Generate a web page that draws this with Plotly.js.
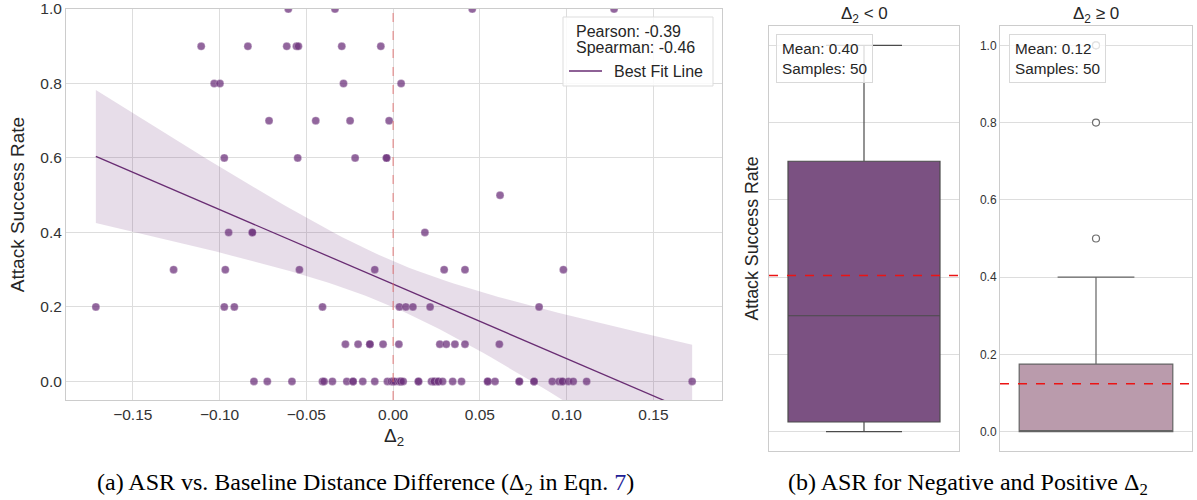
<!DOCTYPE html>
<html>
<head>
<meta charset="utf-8">
<script src="https://cdn.plot.ly/plotly-3.0.1.min.js"></script>
<style>html,body{margin:0;padding:0;background:#fff;}#chart{width:1197px;height:500px;}</style>
</head>
<body>
<div id="chart"></div>
<script>
// ---- Data (Δ2 vs. attack success rate), one entry per sample ----
const delta2 = [
  -0.0604, -0.0335, 0.0456, 0.1273,
  -0.1106, -0.0837, -0.0613, -0.0557, -0.0546, -0.0296, -0.0071,
  -0.1031, -0.0998, -0.0286, 0.0046,
  -0.0715, -0.0446, -0.0248, -0.0023,
  -0.0973, -0.0550, -0.0219, -0.0038, -0.0038,
  0.0616,
  -0.0948, -0.0811, -0.0811, 0.0183,
  -0.1265, -0.0967, -0.0540, -0.0106, 0.0294, 0.0414, 0.0981,
  -0.1713, -0.0973, -0.0915, -0.0407, 0.0036, 0.0073, 0.0114, 0.0213, 0.0841,
  -0.0275, -0.0202, -0.0134, -0.0134, -0.0058, 0.0033, 0.0269, 0.0306, 0.0356, 0.0414, 0.0612,
  -0.0802, -0.0725, -0.0583, -0.0407, -0.0398, -0.0350, -0.0267, -0.0231, -0.0231, -0.0175, -0.0106, -0.0033, -0.0010,
  0.0000, 0.0010, 0.0033, 0.0044, 0.0044, 0.0058, 0.0146, 0.0146, 0.0221, 0.0237, 0.0237, 0.0260, 0.0260,
  0.0285, 0.0343, 0.0394, 0.0545, 0.0545, 0.0587, 0.0727, 0.0727, 0.0812, 0.0812, 0.0917, 0.0956, 0.0975,
  0.0975, 0.1010, 0.1038, 0.1115, 0.1723
];
const asr = [
  1.0, 1.0, 1.0, 1.0,
  0.9, 0.9, 0.9, 0.9, 0.9, 0.9, 0.9,
  0.8, 0.8, 0.8, 0.8,
  0.7, 0.7, 0.7, 0.7,
  0.6, 0.6, 0.6, 0.6, 0.6,
  0.5,
  0.4, 0.4, 0.4, 0.4,
  0.3, 0.3, 0.3, 0.3, 0.3, 0.3, 0.3,
  0.2, 0.2, 0.2, 0.2, 0.2, 0.2, 0.2, 0.2, 0.2,
  0.1, 0.1, 0.1, 0.1, 0.1, 0.1, 0.1, 0.1, 0.1, 0.1, 0.1,
  0.0, 0.0, 0.0, 0.0, 0.0, 0.0, 0.0, 0.0, 0.0, 0.0, 0.0, 0.0, 0.0,
  0.0, 0.0, 0.0, 0.0, 0.0, 0.0, 0.0, 0.0, 0.0, 0.0, 0.0, 0.0, 0.0,
  0.0, 0.0, 0.0, 0.0, 0.0, 0.0, 0.0, 0.0, 0.0, 0.0, 0.0, 0.0, 0.0,
  0.0, 0.0, 0.0, 0.0, 0.0
];
const pearsonR = -0.39;
const spearmanR = -0.46;
const xTicks = [-0.15, -0.10, -0.05, 0.00, 0.05, 0.10, 0.15];
const yTicks = [0.0, 0.2, 0.4, 0.6, 0.8, 1.0];
const groupTitles = ['Δ<sub>2</sub> &lt; 0', 'Δ<sub>2</sub> ≥ 0'];
const captionA = '(a) ASR vs. Baseline Distance Difference (Δ<sub>2</sub> in Eqn. <span style="color:rgb(30,30,150)">7</span>)';
const captionB = '(b) ASR for Negative and Positive Δ<sub>2</sub>';

// ---- Statistics computed from the data ----
const n = delta2.length;
const mean = a => a.reduce((s, v) => s + v, 0) / a.length;
const xm = mean(delta2), ym = mean(asr);
let sxy = 0, sxx = 0, syy = 0;
for (let i = 0; i < n; i++) {
  sxy += (delta2[i] - xm) * (asr[i] - ym);
  sxx += (delta2[i] - xm) ** 2;
  syy += (asr[i] - ym) ** 2;
}
const slope = sxy / sxx, intercept = ym - slope * xm;
const s2 = (syy - slope * sxy) / (n - 2);
const tcrit = 1.984;
const xmin = Math.min(...delta2), xmax = Math.max(...delta2);
const gx = [], gy = [], gup = [], glo = [];
for (let k = 0; k <= 80; k++) {
  const x = xmin + (xmax - xmin) * k / 80;
  const y = intercept + slope * x;
  const se = Math.sqrt(s2 * (1 / n + (x - xm) ** 2 / sxx));
  gx.push(x); gy.push(y); gup.push(y + tcrit * se); glo.push(y - tcrit * se);
}

const negVals = asr.filter((v, i) => delta2[i] < 0);
const posVals = asr.filter((v, i) => delta2[i] >= 0);
function quantile(sorted, p) {
  const pos = (sorted.length - 1) * p, lo = Math.floor(pos), hi = Math.ceil(pos);
  return sorted[lo] + (sorted[hi] - sorted[lo]) * (pos - lo);
}
function boxStats(vals) {
  const s = [...vals].sort((a, b) => a - b);
  const q1 = quantile(s, 0.25), med = quantile(s, 0.5), q3 = quantile(s, 0.75);
  const iqr = q3 - q1;
  const lf = Math.min(...s.filter(v => v >= q1 - 1.5 * iqr));
  const uf = Math.max(...s.filter(v => v <= q3 + 1.5 * iqr));
  const out = s.filter(v => v < lf || v > uf);
  return {q1, med, q3, lf, uf, out, mean: mean(vals), count: vals.length};
}
const stNeg = boxStats(negVals), stPos = boxStats(posVals);

const PURPLE = 'rgb(110,52,125)';
const traces = [
  {x: gx, y: glo, mode: 'lines', line: {width: 0}, hoverinfo: 'skip', showlegend: false, xaxis: 'x', yaxis: 'y'},
  {x: gx, y: gup, mode: 'lines', line: {width: 0}, fill: 'tonexty', fillcolor: 'rgba(110,55,125,0.17)', hoverinfo: 'skip', showlegend: false, xaxis: 'x', yaxis: 'y'},
  {x: gx, y: gy, mode: 'lines', line: {color: 'rgb(105,45,115)', width: 1.3}, showlegend: false, xaxis: 'x', yaxis: 'y'},
  {x: delta2, y: asr, mode: 'markers', type: 'scatter',
   marker: {color: PURPLE, opacity: 0.75, size: 8, line: {color: 'rgba(255,255,255,0.6)', width: 0.5}},
   showlegend: false, xaxis: 'x', yaxis: 'y', cliponaxis: true},
  {type: 'box', orientation: 'v', x: [0], q1: [stNeg.q1], median: [stNeg.med], q3: [stNeg.q3],
   lowerfence: [stNeg.lf], upperfence: [stNeg.uf], width: 0.8, whiskerwidth: 0.5, boxpoints: false,
   fillcolor: 'rgb(123,81,130)', line: {color: 'rgb(75,75,75)', width: 1.2}, showlegend: false, xaxis: 'x2', yaxis: 'y2'},
  {type: 'box', orientation: 'v', x: [0], q1: [stPos.q1], median: [stPos.med], q3: [stPos.q3],
   lowerfence: [stPos.lf], upperfence: [stPos.uf], width: 0.8, whiskerwidth: 0.5, boxpoints: false,
   fillcolor: 'rgb(186,155,172)', line: {color: 'rgb(100,100,100)', width: 1.2}, showlegend: false, xaxis: 'x3', yaxis: 'y3'},
  {x: stNeg.out.map(() => 0), y: stNeg.out, mode: 'markers', marker: {color: 'white', size: 7, line: {color: 'rgb(110,110,110)', width: 1.2}}, showlegend: false, xaxis: 'x2', yaxis: 'y2'},
  {x: stPos.out.map(() => 0), y: stPos.out, mode: 'markers', marker: {color: 'white', size: 7, line: {color: 'rgb(110,110,110)', width: 1.2}}, showlegend: false, xaxis: 'x3', yaxis: 'y3'}
];

const W = 1197, H = 500;
const px = v => v / W, py = v => 1 - v / H;
const FONT = 'Liberation Sans, Arial, sans-serif';
const grid = {showgrid: true, gridcolor: '#dddddd', gridwidth: 1, zeroline: false, showline: true, mirror: true, linecolor: '#cccccc', linewidth: 1, ticks: ''};

const layout = {
  width: W, height: H, margin: {l: 0, r: 0, t: 0, b: 0},
  paper_bgcolor: 'white', plot_bgcolor: 'white',
  font: {family: FONT, color: '#333'},
  showlegend: false,
  xaxis: Object.assign({}, grid, {domain: [px(66), px(722)], range: [-0.1885, 0.1895], tickvals: xTicks, tickformat: '.2f',
    tickfont: {size: 15.5, color: '#333'}, anchor: 'y',
    title: {text: 'Δ<sub>2</sub>', font: {size: 19, color: '#262626'}, standoff: 7}}),
  yaxis: Object.assign({}, grid, {domain: [py(400), py(9)], range: [-0.05, 1.0], tickvals: yTicks, tickformat: '.1f',
    tickfont: {size: 15.5, color: '#333'}, anchor: 'x',
    title: {text: 'Attack Success Rate', font: {size: 19, color: '#262626'}, standoff: 10}}),
  xaxis2: Object.assign({}, grid, {domain: [px(769), px(959)], range: [-0.5, 0.5], showgrid: false, showticklabels: false, anchor: 'y2'}),
  yaxis2: Object.assign({}, grid, {domain: [py(451), py(26)], range: [-0.05, 1.05], tickvals: yTicks, showticklabels: false, anchor: 'x2',
    title: {text: 'Attack Success Rate', font: {size: 17.8, color: '#262626'}, standoff: 4}}),
  xaxis3: Object.assign({}, grid, {domain: [px(1000), px(1192)], range: [-0.5, 0.5], showgrid: false, showticklabels: false, anchor: 'y3'}),
  yaxis3: Object.assign({}, grid, {domain: [py(451), py(26)], range: [-0.05, 1.05], tickvals: yTicks, tickformat: '.1f',
    tickfont: {size: 12, color: '#333'}, anchor: 'x3'}),
  shapes: [
    {type: 'line', xref: 'x', yref: 'y domain', x0: 0, x1: 0, y0: 0, y1: 1, line: {color: 'rgba(225,110,110,0.75)', width: 1.2, dash: 'dash'}},
    {type: 'line', xref: 'x2 domain', yref: 'y2', x0: 0, x1: 1, y0: stNeg.mean, y1: stNeg.mean, line: {color: 'rgb(235,20,20)', width: 1.5, dash: 'dash'}},
    {type: 'line', xref: 'x3 domain', yref: 'y3', x0: 0, x1: 1, y0: stPos.mean, y1: stPos.mean, line: {color: 'rgb(235,20,20)', width: 1.5, dash: 'dash'}},
    {type: 'rect', xref: 'paper', yref: 'paper', x0: px(563), x1: px(713), y0: py(86), y1: py(17), fillcolor: 'rgba(255,255,255,0.85)', line: {color: '#dddddd', width: 1}},
    {type: 'line', xref: 'paper', yref: 'paper', x0: px(569), x1: px(602), y0: py(71), y1: py(71), line: {color: 'rgb(105,45,115)', width: 1.3}}
  ],
  annotations: [
    {xref: 'paper', yref: 'paper', x: px(574), y: py(31), xanchor: 'left', yanchor: 'middle', showarrow: false,
     text: 'Pearson: ' + pearsonR.toFixed(2), font: {size: 16, color: '#262626'}},
    {xref: 'paper', yref: 'paper', x: px(574), y: py(48), xanchor: 'left', yanchor: 'middle', showarrow: false,
     text: 'Spearman: ' + spearmanR.toFixed(2), font: {size: 16, color: '#262626'}},
    {xref: 'paper', yref: 'paper', x: px(612), y: py(71), xanchor: 'left', yanchor: 'middle', showarrow: false,
     text: 'Best Fit Line', font: {size: 16, color: '#262626'}},
    {xref: 'paper', yref: 'paper', x: px(776), y: py(34), xanchor: 'left', yanchor: 'top', showarrow: false, align: 'left',
     text: 'Mean: ' + stNeg.mean.toFixed(2) + '<br>Samples: ' + stNeg.count, font: {size: 15.3, color: '#262626'},
     bgcolor: 'rgba(255,255,255,0.8)', bordercolor: '#d9d9d9', borderwidth: 1, borderpad: 5},
    {xref: 'paper', yref: 'paper', x: px(1009), y: py(34), xanchor: 'left', yanchor: 'top', showarrow: false, align: 'left',
     text: 'Mean: ' + stPos.mean.toFixed(2) + '<br>Samples: ' + stPos.count, font: {size: 15.3, color: '#262626'},
     bgcolor: 'rgba(255,255,255,0.8)', bordercolor: '#d9d9d9', borderwidth: 1, borderpad: 5},
    {xref: 'paper', yref: 'paper', x: px(864), y: py(15), xanchor: 'center', yanchor: 'middle', showarrow: false,
     text: groupTitles[0], font: {size: 17, color: '#262626'}},
    {xref: 'paper', yref: 'paper', x: px(1096), y: py(15), xanchor: 'center', yanchor: 'middle', showarrow: false,
     text: groupTitles[1], font: {size: 17, color: '#262626'}},
    {xref: 'paper', yref: 'paper', x: px(365), y: py(484), xanchor: 'center', yanchor: 'middle', showarrow: false,
     text: captionA, font: {size: 24, color: 'black', family: 'Liberation Serif, Times New Roman, serif'}},
    {xref: 'paper', yref: 'paper', x: px(968), y: py(484), xanchor: 'center', yanchor: 'middle', showarrow: false,
     text: captionB, font: {size: 24, color: 'black', family: 'Liberation Serif, Times New Roman, serif'}}
  ]
};

Plotly.newPlot('chart', traces, layout, {displayModeBar: false, staticPlot: true});
</script>
</body>
</html>
